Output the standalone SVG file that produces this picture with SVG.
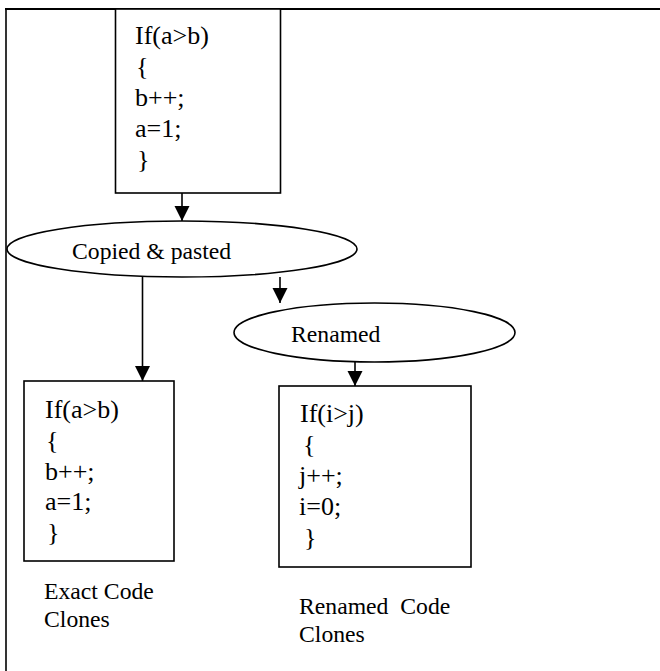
<svg xmlns="http://www.w3.org/2000/svg" width="660" height="671" viewBox="0 0 660 671">
  <style>
    .frame { fill: none; stroke: #000; }
    .box { fill: #fff; stroke: #000; stroke-width: 1.6; }
    .oval { fill: #fff; stroke: #000; stroke-width: 1.6; }
    .code { font-family: "Liberation Serif", "Times New Roman", serif; font-size: 26px; fill: #000; white-space: pre; }
    .lbl { font-family: "Liberation Serif", "Times New Roman", serif; font-size: 23.7px; fill: #000; white-space: pre; }
    .edge { stroke: #000; stroke-width: 1.6; fill: none; marker-end: url(#head); }
  </style>
  <defs>
    <marker id="head" markerUnits="userSpaceOnUse" markerWidth="16" markerHeight="16" refX="15" refY="7.5" orient="auto">
      <path d="M0,0 L15,7.5 L0,15 z" fill="#000"/>
    </marker>
  </defs>
  <rect width="660" height="671" fill="#fff"/>

  <!-- page frame: top rule and left rule -->
  <g id="frame">
    <line class="frame" x1="5" y1="9" x2="660" y2="9" stroke-width="2.2"/>
    <line class="frame" x1="6" y1="8" x2="6" y2="671" stroke-width="1.6"/>
  </g>

  <!-- connectors -->
  <g id="connectors">
    <line class="edge" x1="182" y1="193" x2="182" y2="221"/>
    <line class="edge" x1="142.5" y1="277" x2="142.5" y2="381"/>
    <line class="edge" x1="280" y1="277" x2="280" y2="303"/>
    <line class="edge" x1="355" y1="362" x2="355" y2="386"/>
  </g>

  <!-- original code fragment -->
  <g id="original">
    <rect class="box" x="115.5" y="9" width="165" height="184"/>
    <text class="code" x="135" y="44">If(a&gt;b)</text>
    <text class="code" x="136" y="75">{</text>
    <text class="code" x="135" y="106">b++;</text>
    <text class="code" x="135" y="137">a=1;</text>
    <text class="code" x="137" y="168">}</text>
  </g>

  <g id="copied">
    <ellipse class="oval" cx="182" cy="249" rx="175" ry="28"/>
    <text class="lbl" x="72" y="259">Copied &amp; pasted</text>
  </g>

  <g id="renamed">
    <ellipse class="oval" cx="374.5" cy="332.5" rx="140.5" ry="29.5"/>
    <text class="lbl" x="291" y="342">Renamed</text>
  </g>

  <!-- exact clone -->
  <g id="exact-clone">
    <rect class="box" x="24" y="381" width="150" height="180"/>
    <text class="code" x="45" y="418">If(a&gt;b)</text>
    <text class="code" x="46" y="449">{</text>
    <text class="code" x="45" y="480">b++;</text>
    <text class="code" x="45" y="510">a=1;</text>
    <text class="code" x="47" y="541">}</text>
  </g>

  <!-- renamed clone -->
  <g id="renamed-clone">
    <rect class="box" x="279" y="386" width="192" height="181"/>
    <text class="code" x="300" y="422">If(i&gt;j)</text>
    <text class="code" x="303" y="453">{</text>
    <text class="code" x="299" y="484">j++;</text>
    <text class="code" x="299" y="515">i=0;</text>
    <text class="code" x="304" y="546">}</text>
  </g>

  <g id="exact-caption">
    <text class="lbl" x="44" y="599">Exact Code</text>
    <text class="lbl" x="44" y="627">Clones</text>
  </g>

  <g id="renamed-caption">
    <text class="lbl" x="299" y="614">Renamed  Code</text>
    <text class="lbl" x="299" y="642">Clones</text>
  </g>
</svg>
